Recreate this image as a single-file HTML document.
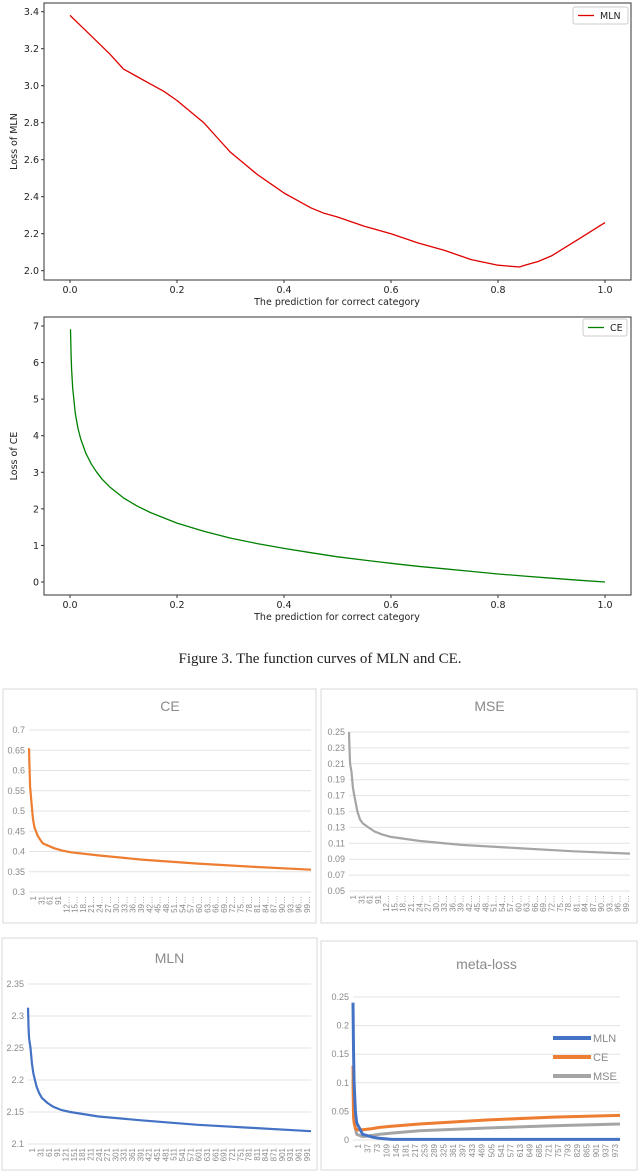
<!DOCTYPE html>
<html><head><meta charset="utf-8"><style>
html,body{margin:0;padding:0;background:#fff;}
svg{display:block;}
.mt{font-family:"DejaVu Sans","Liberation Sans",sans-serif;font-size:9.5px;fill:#222;}
.ex{font-family:"Liberation Sans",sans-serif;fill:#8a8a8a;}
</style></head><body>
<svg id="fig" width="640" height="1172" viewBox="0 0 640 1172" xmlns="http://www.w3.org/2000/svg"></svg>
<script>
// ---- data ----
const mlnX=[0,0.025,0.05,0.075,0.1,0.125,0.15,0.175,0.2,0.225,0.25,0.275,0.3,0.325,0.35,0.375,0.4,0.425,0.45,0.475,0.5,0.55,0.6,0.65,0.7,0.75,0.8,0.84,0.85,0.875,0.9,0.95,1.0];
const mlnY=[3.38,3.31,3.24,3.17,3.09,3.05,3.01,2.97,2.92,2.86,2.80,2.72,2.64,2.58,2.52,2.47,2.42,2.38,2.34,2.31,2.29,2.24,2.20,2.15,2.11,2.06,2.03,2.02,2.03,2.05,2.08,2.17,2.26];
const ceX=[0.001,0.002,0.003,0.005,0.01,0.015,0.02,0.03,0.04,0.05,0.06,0.075,0.1,0.125,0.15,0.2,0.25,0.3,0.35,0.4,0.45,0.5,0.55,0.6,0.65,0.7,0.75,0.8,0.85,0.9,0.95,1.0];
const ceY=[6.91,6.21,5.81,5.30,4.61,4.20,3.91,3.51,3.22,3.00,2.81,2.59,2.30,2.08,1.90,1.61,1.39,1.20,1.05,0.92,0.80,0.69,0.60,0.51,0.43,0.36,0.29,0.22,0.16,0.105,0.05,0];
const topXTicks=[0,0.2,0.4,0.6,0.8,1.0];
const mlnYTicks=[2.0,2.2,2.4,2.6,2.8,3.0,3.2,3.4];
const ceYTicks=[0,1,2,3,4,5,6,7];
const iterX=[1,3,5,10,15,20,31,40,50,70,91,120,150,250,400,600,800,1000];
const iterCE=[0.655,0.60,0.56,0.52,0.48,0.46,0.44,0.43,0.42,0.414,0.408,0.402,0.398,0.39,0.38,0.37,0.362,0.355];
const iterMSE=[0.25,0.225,0.21,0.20,0.18,0.17,0.15,0.14,0.135,0.13,0.125,0.121,0.118,0.113,0.108,0.104,0.100,0.097];
const iterMLN=[2.313,2.28,2.265,2.25,2.225,2.21,2.19,2.18,2.172,2.164,2.158,2.153,2.15,2.143,2.137,2.13,2.125,2.12];
const metaX=[1,3,5,10,15,37,73,100,145,250,500,750,1000];
const metaMLN=[0.24,0.16,0.10,0.05,0.03,0.01,0.005,0.003,0.001,0.001,0.001,0.001,0.001];
const metaCE=[0.13,0.04,0.03,0.02,0.018,0.018,0.02,0.022,0.024,0.028,0.035,0.04,0.043];
const metaMSE=[0.105,0.06,0.04,0.02,0.01,0.006,0.008,0.01,0.012,0.016,0.021,0.025,0.028];
const ceTicksB=[0.3,0.35,0.4,0.45,0.5,0.55,0.6,0.65,0.7];
const mseTicksB=[0.05,0.07,0.09,0.11,0.13,0.15,0.17,0.19,0.21,0.23,0.25];
const mlnTicksB=[2.1,2.15,2.2,2.25,2.3,2.35];
const metaTicksB=[0,0.05,0.1,0.15,0.2,0.25];

const NS='http://www.w3.org/2000/svg';
const svg=document.getElementById('fig');
function el(tag,attrs,parent,text){const e=document.createElementNS(NS,tag);for(const k in attrs)e.setAttribute(k,attrs[k]);if(text!==undefined)e.textContent=text;(parent||svg).appendChild(e);return e;}
function lin(d0,d1,r0,r1){return v=>r0+(v-d0)*(r1-r0)/(d1-d0);}
function path(xs,ys,sx,sy){return xs.map((x,i)=>(i?'L':'M')+sx(x).toFixed(1)+','+sy(ys[i]).toFixed(1)).join('');}

function mplPanel(name,top,bot,y0v,y1v,y0p,y1p,yticks,fmt,xs,ys,color,ylabel,legend,lx,ly,lw){
  const g=el('g',{});
  
  
  const sx=lin(0,1,70,605), sy=lin(y0v,y1v,y0p,y1p);
  el('rect',{x:44,y:top,width:587,height:bot-top,fill:'none',stroke:'#333','stroke-width':1},g);
  topXTicks.forEach(t=>{const x=sx(t);el('line',{x1:x,x2:x,y1:bot,y2:bot+3,stroke:'#333'},g);
    const tx=el('text',{x:x,y:bot+13,'text-anchor':'middle',class:'mt'},g,t.toFixed(1));
    });
  yticks.forEach(t=>{const y=sy(t);el('line',{x1:41,x2:44,y1:y,y2:y,stroke:'#333'},g);
    const tx=el('text',{x:39,y:y+3.5,'text-anchor':'end',class:'mt'},g,fmt(t));
    });
  const xt=el('text',{x:337,y:bot+25,'text-anchor':'middle',class:'mt'},g,'The prediction for correct category');
  
  const cy=(top+bot)/2;
  const yt=el('text',{x:0,y:0,transform:`translate(17,${cy}) rotate(-90)`,'text-anchor':'middle',class:'mt'},g,ylabel);
  
  const p=el('path',{d:path(xs,ys,sx,sy),fill:'none',stroke:color,'stroke-width':1.3,'stroke-linejoin':'round'},g);
  
  const lg=el('g',{},g);
  
  el('rect',{x:lx,y:ly,width:lw,height:17,rx:2,fill:'#fff',stroke:'#ccc'},lg);
  el('line',{x1:lx+5,x2:lx+21,y1:ly+8.5,y2:ly+8.5,stroke:color,'stroke-width':1.3},lg);
  el('text',{x:lx+27,y:ly+12,class:'mt'},lg,legend);
}
mplPanel('mln-function-chart',3,280,2.0,3.4,270.7,11.7,mlnYTicks,v=>v.toFixed(1),mlnX,mlnY,'#e00000','Loss of MLN','MLN',573,7,55);
mplPanel('ce-function-chart',317,595,0,7,582,326,ceYTicks,v=>String(v),ceX,ceY,'#008000','Loss of CE','CE',583,319,44);

const cap=el('text',{x:320,y:663,'text-anchor':'middle','font-family':'"Liberation Serif",serif','font-size':'15px',fill:'#222'},svg,'Figure 3. The function curves of MLN and CE.');


function xlPanel(name,bx,by,bw,bh,title,ty,px0,px1,ticks,tv0,tv1,tp0,tp1,fmt,labels,series){
  const g=el('g',{});
  
  
  el('rect',{x:bx,y:by,width:bw,height:bh,fill:'#fff',stroke:'#d9d9d9'},g);
  const t=el('text',{x:(px0+px1)/2,y:ty,'text-anchor':'middle',class:'ex','font-size':'14px'},g,title);
  
  const sy=lin(tv0,tv1,tp0,tp1), sx=lin(1,1000,px0,px1);
  ticks.forEach(v=>{const y=sy(v);el('line',{x1:px0,x2:px1,y1:y,y2:y,stroke:'#e3e3e3'},g);
    const tx=el('text',{x:px0-4,y:y+3,'text-anchor':'end',class:'ex','font-size':'9px'},g,fmt(v));
    });
  const n=labels.length, step=(px1-px0)/n;
  labels.forEach((s,i)=>{const x=px0+step*(i+0.5)+3;
    const tx=el('text',{x:0,y:0,transform:`translate(${x},${tp0+4}) rotate(-90)`,'text-anchor':'end',class:'ex','font-size':'8px'},g,s);
    });
  series.forEach(s=>{const p=el('path',{d:path(s.x,s.y,sx,sy),fill:'none',stroke:s.c,'stroke-width':s.w||2.2,'stroke-linejoin':'round'},g);
    });
  return g;
}
function labs(start,step,count,trunc){const a=[];for(let i=0;i<count;i++){const v=start+i*step;let s=String(v);if(trunc&&s.length>2)s=s.slice(0,2)+'\u2026';a.push(s);}return a;}
const f2=v=>String(+v.toFixed(2));
xlPanel('ce-training-chart',3,689,313,234,'CE',711,29,311,ceTicksB,0.3,0.7,892,730,f2,labs(1,30,34,true),[{x:iterX,y:iterCE,c:'#ed7d31',n:'ce-curve'}]);
xlPanel('mse-training-chart',321,689,316,234,'MSE',711,349,630,mseTicksB,0.05,0.25,891,732,f2,labs(1,30,34,true),[{x:iterX,y:iterMSE,c:'#a5a5a5',n:'mse-curve'}]);
xlPanel('mln-training-chart',2,938,315,232,'MLN',963,28,311,mlnTicksB,2.1,2.35,1144,984,f2,labs(1,30,34,false),[{x:iterX,y:iterMLN,c:'#4472c4',n:'mln-curve'}]);
const mg=xlPanel('meta-loss-chart',321,941,316,229,'meta-loss',969,353,620,metaTicksB,0,0.25,1140,997,f2,labs(1,36,28,false),[
  {x:metaX,y:metaMSE,c:'#a5a5a5',n:'meta-mse-curve',w:3},
  {x:metaX,y:metaCE,c:'#ed7d31',n:'meta-ce-curve',w:3},
  {x:metaX,y:metaMLN,c:'#4472c4',n:'meta-mln-curve',w:3}]);
[['MLN','#4472c4',1038],['CE','#ed7d31',1057],['MSE','#a5a5a5',1076]].forEach(l=>{
  const lg=el('g',{},mg);
  
  el('line',{x1:553,x2:591,y1:l[2],y2:l[2],stroke:l[1],'stroke-width':4},lg);
  el('text',{x:593,y:l[2]+4,class:'ex','font-size':'11px'},lg,l[0]);
});
</script>
</body></html>
